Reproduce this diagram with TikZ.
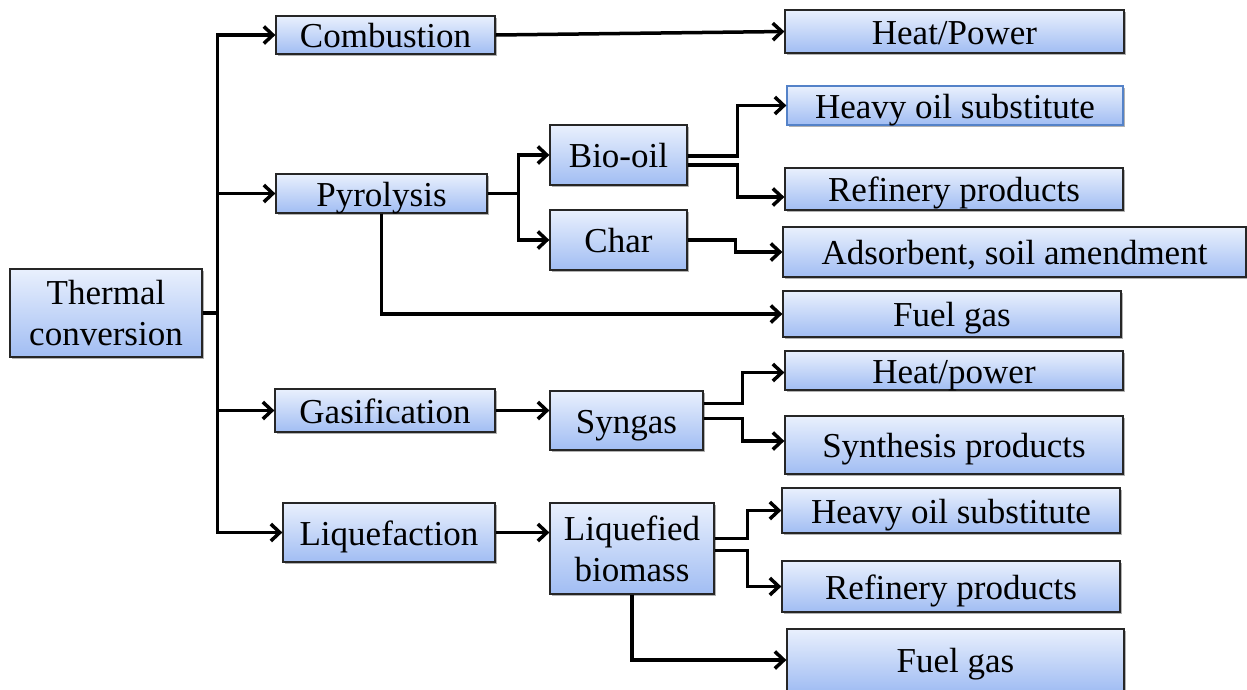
\documentclass[tikz,border=0pt]{standalone}
\usepackage{fontspec}
\setmainfont{Liberation Serif}
\usetikzlibrary{arrows.meta,shadows}
\definecolor{boxtop}{RGB}{233,240,253}
\definecolor{boxbot}{RGB}{161,189,243}
\definecolor{blueedge}{RGB}{84,130,200}
\newcommand\bxnode[7][one]{%
  \node[box,#1,minimum width={(#4-#2)*1pt},minimum height={(#5-#3)*1pt}]
    (#7) at ({(#2+#4)/2},{(#3+#5)/2}) {#6};}
\begin{document}
\begin{tikzpicture}[x=1pt,y=-1pt,
  box/.style={draw=black!85,line width=1.3pt,top color=boxtop,bottom color=boxbot,
    inner sep=0pt,align=center,font=\fontsize{35}{41}\selectfont,
    drop shadow={shadow xshift=1.5pt,shadow yshift=-1.5pt,opacity=0.3,fill=black}},
  one/.style={text height=29pt,text depth=4pt},
  multi/.style={},
  conn/.style={line width=3.5pt,line join=miter,-{Straight Barb[length=9pt,width=17pt]}}]
\useasboundingbox (0,0) rectangle (1247,689);

% boxes
\bxnode[multi]{10}{269}{202}{357}{Thermal\\conversion}{thermal}
\bxnode{276}{16}{495}{54}{Combustion}{comb}
\bxnode{276}{174}{487}{213}{Pyrolysis}{pyro}
\bxnode{275}{389}{495}{432}{Gasification}{gasif}
\bxnode{283}{503}{495}{562}{Liquefaction}{liquef}

\bxnode{550}{125}{687}{185}{Bio-oil}{biooil}
\bxnode{550}{210}{687}{270}{Char}{char}
\bxnode{550}{391}{703}{450}{Syngas}{syngas}
\bxnode[multi]{550}{503}{714}{594}{Liquefied\\biomass}{liqbio}

\bxnode{785}{10}{1124}{53}{Heat/Power}{heatA}
\bxnode[one,draw=blueedge]{787}{86}{1123}{125}{Heavy oil substitute}{heavyA}
\bxnode{785}{168}{1123}{210}{Refinery products}{refA}
\bxnode{783}{227}{1246}{277}{Adsorbent, soil amendment}{adsorb}
\bxnode{783}{291}{1121}{337}{Fuel gas}{fuelA}
\bxnode{785}{351}{1123}{390}{Heat/power}{heatB}
\bxnode{785}{416}{1123}{474}{Synthesis products}{synth}
\bxnode{782}{488}{1120}{533}{Heavy oil substitute}{heavyB}
\bxnode{782}{561}{1120}{612}{Refinery products}{refB}
\bxnode{787}{629}{1124}{691}{Fuel gas}{fuelB}

% connectors from thermal conversion
\draw[line width=3.5pt] (thermal.east) -- ++(15,0) coordinate (trunk);
\draw[conn] (trunk) |- (comb.west);
\draw[conn] (trunk) |- (pyro.west);
\draw[conn] (trunk) |- (gasif.west);
\draw[conn] (trunk) |- (liquef.west);

% pyrolysis
\draw[conn] (pyro.east) -- ++(31,0) |- (biooil.west);
\draw[conn] (pyro.east) -- ++(31,0) |- (char.west);
\draw[conn] (pyro.south) |- (fuelA.west);

% combustion
\draw[conn] (comb.east) -- (heatA.west);

% bio-oil and char
\draw[conn] ([yshift=-1pt]biooil.east) -- ++(50,0) |- (heavyA.west);
\draw[conn] ([yshift=-10pt]biooil.east) -- ++(50,0) |- ([yshift=-8pt]refA.west);
\draw[conn] (char.east) -- ++(48,0) |- (adsorb.west);

% gasification
\draw[conn] (gasif.east) -- (gasif.east -| syngas.west);
\draw[conn] ([yshift=17pt]syngas.east) -- ++(39,0) |- ([yshift=-2pt]heatB.west);
\draw[conn] ([yshift=2pt]syngas.east) -- ++(39,0) |- ([yshift=4pt]synth.west);

% liquefaction
\draw[conn] (liquef.east) -- (liquef.east -| liqbio.west);
\draw[conn] ([yshift=10pt]liqbio.east) -- ++(33,0) |- (heavyB.west);
\draw[conn] ([yshift=-2pt]liqbio.east) -- ++(33,0) |- (refB.west);
\draw[conn] (liqbio.south) |- (fuelB.west);
\end{tikzpicture}
\end{document}
